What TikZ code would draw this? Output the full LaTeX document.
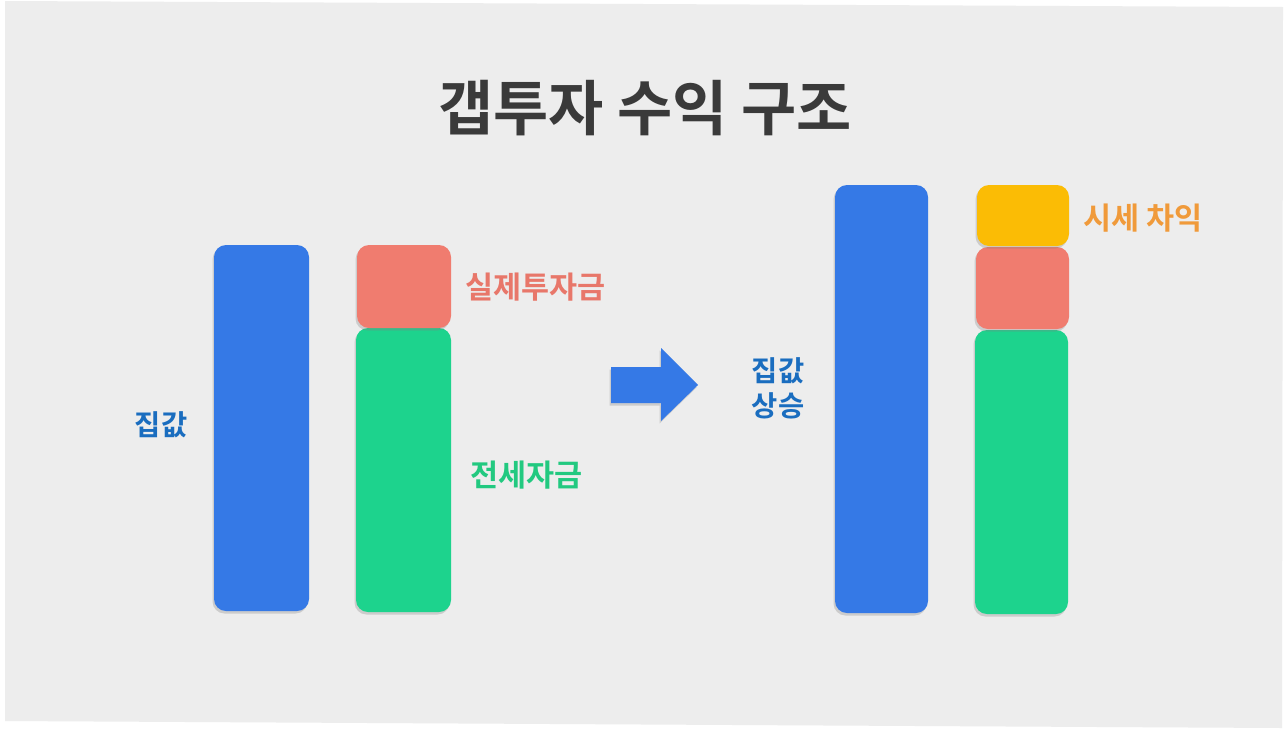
\documentclass[tikz,border=0pt]{standalone}
\usepackage{fontspec}
\newfontfamily\kr{Noto Sans CJK KR}[BoldFont={Noto Sans CJK KR Bold}]
\usetikzlibrary{shadows}
\definecolor{bgray}{HTML}{EDEDED}
\definecolor{titlec}{HTML}{3A3A3A}
\definecolor{barblue}{HTML}{3579E6}
\definecolor{barsalmon}{HTML}{F07C6F}
\definecolor{bargreen}{HTML}{1DD38D}
\definecolor{baryellow}{HTML}{FBBC05}
\definecolor{txtblue}{HTML}{1A6DBF}
\definecolor{txtsalmon}{HTML}{E8776A}
\definecolor{txtgreen}{HTML}{22C980}
\definecolor{txtorange}{HTML}{F09A3A}
\tikzset{
  shad/.style={drop shadow={opacity=0.3, shadow xshift=-1.5pt, shadow yshift=-2.5pt}},
  bar/.style={rounded corners=12pt, inner sep=0pt, draw=none, shad},
  lbl/.style={font=\kr\bfseries\fontsize{30.5}{36}\selectfont, align=center, inner sep=0pt},
}
\begin{document}
\begin{tikzpicture}[x=1pt,y=-1pt]
\useasboundingbox (0,0) rectangle (1287,729);
\fill[white] (0,0) rectangle (1287,729);
\fill[bgray] (5,1) -- (1283,7) -- (1282,728) -- (5,721) -- cycle;

\node[font=\kr\bfseries\fontsize{60}{64}\selectfont, text=titlec, inner sep=0pt] (title) at (645,108) {갭투자 수익 구조};

% left group
\node[bar, fill=barblue, minimum width=95pt, minimum height=366pt] (lblue) at (261.5,428) {};
\node[bar, fill=bargreen, minimum width=95pt, minimum height=284pt] (lgreen) at (403.5,470) {};
\node[bar, fill=barsalmon, minimum width=94pt, minimum height=83pt] (lsalmon) at (404,286.5) {};

\node[lbl, text=txtblue, font=\kr\bfseries\fontsize{28.5}{36}\selectfont] (tjip) at (161,425) {집값};
\node[lbl, text=txtsalmon, anchor=west] (tsil) at (465,287) {실제투자금};
\node[lbl, text=txtgreen, anchor=west] (tjeon) at (470,475) {전세자금};

% arrow
\fill[barblue, shad]
  (611,367) -- (661,367) -- (661,348) -- (698,385) -- (661,421) -- (661,403) -- (611,403) -- cycle;
\coordinate (arrowtip) at (698,385);

\node[lbl, text=txtblue, font=\kr\bfseries\fontsize{28.5}{35}\selectfont] (tsang) at (778,388) {집값\\상승};

% right group
\node[bar, fill=barblue, minimum width=93pt, minimum height=428pt] (rblue) at (881.5,399) {};
\node[bar, fill=bargreen, minimum width=93pt, minimum height=284pt] (rgreen) at (1021.5,472) {};
\node[bar, fill=barsalmon, minimum width=93pt, minimum height=82pt] (rsalmon) at (1022.5,288) {};
\node[bar, fill=baryellow, minimum width=92pt, minimum height=61pt] (ryellow) at (1023,215.5) {};

\node[lbl, text=txtorange, anchor=west] (tsise) at (1083,218) {시세 차익};
\end{tikzpicture}
\end{document}
